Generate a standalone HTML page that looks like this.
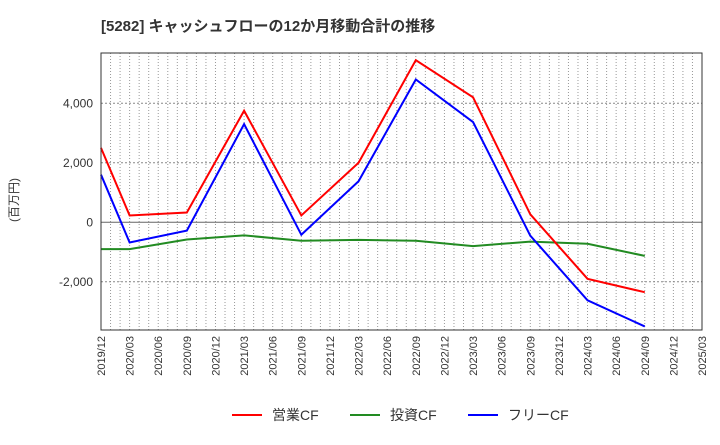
<!DOCTYPE html>
<html><head><meta charset="utf-8"><style>
body{margin:0;background:#fff;font-family:"Liberation Sans","Noto Sans CJK JP",sans-serif}
</style></head><body>
<svg width="720" height="440" xmlns="http://www.w3.org/2000/svg" font-family="Liberation Sans, Noto Sans CJK JP, sans-serif">
<text x="101" y="31" font-size="15" font-weight="bold" fill="#333">[5282]  キャッシュフローの12か月移動合計の推移</text>
<text transform="translate(18,200) rotate(-90)" font-size="12" fill="#333" text-anchor="middle">(百万円)</text>
<g id="grid"></g><g id="axes"></g><g id="series"></g>
<rect x="101" y="53" width="601" height="277" fill="none" stroke="#333"/>
<g font-size="14" fill="#333">
<g><line x1="232" y1="415" x2="262" y2="415" stroke="#f00" stroke-width="2"/><text x="272" y="420">営業CF</text></g>
<g><line x1="350" y1="415" x2="380" y2="415" stroke="#228b22" stroke-width="2"/><text x="390" y="420">投資CF</text></g>
<g><line x1="468" y1="415" x2="498" y2="415" stroke="#00f" stroke-width="2"/><text x="508" y="420">フリーCF</text></g>
</g>
</svg>
<script>
const tickLabels=["2019/12","2020/03","2020/06","2020/09","2020/12","2021/03","2021/06","2021/09","2021/12","2022/03","2022/06","2022/09","2022/12","2023/03","2023/06","2023/09","2023/12","2024/03","2024/06","2024/09","2024/12","2025/03"];
const pointIdx=[0,1,3,5,7,9,11,13,15,17,19];
const opCF=[2500,230,330,3750,230,2000,5450,4200,270,-1900,-2350];
const invCF=[-900,-900,-580,-440,-620,-590,-620,-800,-650,-720,-1130];
const freeCF=[1600,-680,-280,3300,-420,1380,4800,3370,-450,-2620,-3500];
const yTicks=[-2000,0,2000,4000];
const NS="http://www.w3.org/2000/svg";
const L=101,R=702,T=53,B=330,ymax=5690,ymin=-3620;
const xq=i=>L+(R-L)*i/21;
const xm=m=>L+(R-L)*m/63;
const y=v=>T+(ymax-v)/(ymax-ymin)*(B-T);
function mk(tag,attrs,parent){const e=document.createElementNS(NS,tag);for(const k in attrs)e.setAttribute(k,attrs[k]);parent.appendChild(e);return e;}
const grid=document.getElementById('grid'),axes=document.getElementById('axes'),ser=document.getElementById('series');
for(let m=1;m<63;m++){const l=mk('line',{x1:xm(m),x2:xm(m),y1:T,y2:B,stroke:'#999','stroke-dasharray':'1,2'},grid);

}
yTicks.forEach(v=>{const l=mk('line',{x1:L,x2:R,y1:y(v),y2:y(v),stroke:v===0?'#666':'#888','stroke-dasharray':v===0?'':'2,2'},grid);


const t=mk('text',{x:L-8,y:y(v)+4,'text-anchor':'end','font-size':12,fill:'#333'},axes);
t.textContent=v.toLocaleString('en-US');

});
tickLabels.forEach((s,i)=>{const t=mk('text',{transform:`translate(${xq(i)+4},336) rotate(-90)`,'text-anchor':'end','font-size':11,fill:'#333'},axes);
t.textContent=s;

});
[[invCF,'#228b22','investing-cf-line'],[opCF,'#f00','operating-cf-line'],[freeCF,'#00f','free-cf-line']].forEach(([d,c,n])=>{
const p=mk('polyline',{points:d.map((v,i)=>xq(pointIdx[i])+','+y(v)).join(' '),fill:'none',stroke:c,'stroke-width':2},ser);

});
</script>
</body></html>
